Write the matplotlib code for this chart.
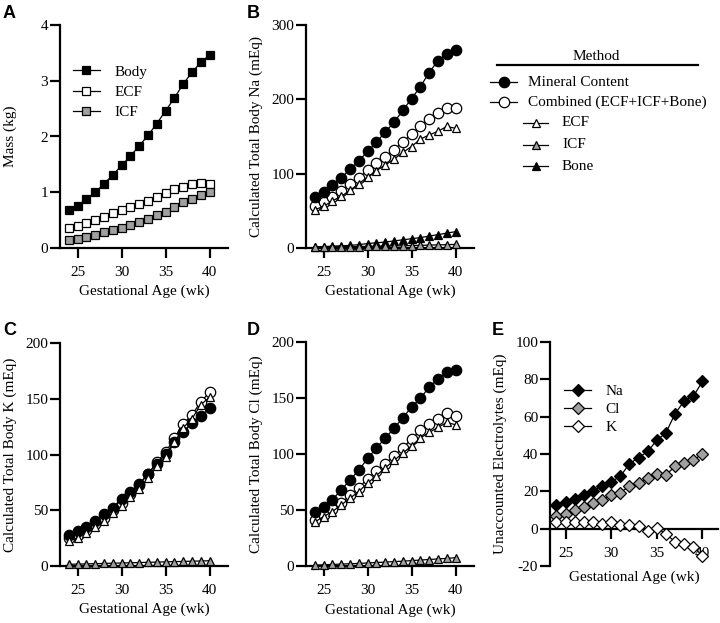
import matplotlib
matplotlib.use('Agg')
import matplotlib.pyplot as plt

plt.rcParams['font.family'] = ['Liberation Serif', 'DejaVu Serif']
plt.rcParams['axes.unicode_minus'] = False
plt.rcParams['font.size'] = 11

weeks = [24, 25, 26, 27, 28, 29, 30, 31, 32, 33, 34, 35, 36, 37, 38, 39, 40]

# Panel A: mass (kg)
mass_body = [0.69, 0.76, 0.88, 1.00, 1.15, 1.31, 1.48, 1.65, 1.83, 2.02, 2.23, 2.46, 2.69, 2.94, 3.15, 3.33, 3.46]
mass_ecf = [0.36, 0.40, 0.45, 0.50, 0.555, 0.62, 0.68, 0.74, 0.79, 0.85, 0.91, 0.98, 1.05, 1.09, 1.14, 1.17, 1.15]
mass_icf = [0.15, 0.17, 0.20, 0.23, 0.28, 0.33, 0.35, 0.41, 0.47, 0.52, 0.585, 0.65, 0.73, 0.82, 0.88, 0.95, 1.00]

# Panel B: total body Na (mEq)
na_mineral = [69, 76, 85, 94, 106, 117, 130, 142, 156, 169, 185, 201, 217, 236, 252, 261, 267]
na_combined = [57, 62, 69, 77, 86, 94.5, 105, 114, 123, 132, 143, 153, 164, 174, 182, 188.5, 188.5]
na_ecf = [51.5, 56, 63.5, 69.5, 77.5, 86.5, 95.5, 104, 111.5, 119.5, 128.5, 136.5, 146.5, 152, 157, 163.5, 161]
na_icf = [1.5, 1.6, 1.7, 1.8, 1.9, 2.0, 2.2, 2.4, 2.6, 2.8, 3.0, 3.3, 3.6, 3.9, 4.2, 4.5, 4.8]
na_bone = [1.5, 2, 2.5, 3, 3.5, 4.5, 6, 7, 8, 9.5, 11, 12.5, 14, 16, 18, 20, 22]

# Panel C: total body K (mEq)
k_mineral = [28, 31, 35.3, 40.4, 46.7, 52.4, 59.9, 66.5, 73.7, 82.3, 91.9, 100.6, 110.8, 120.4, 128.1, 134.7, 141.3]
k_combined = [25, 27.5, 32.3, 37.7, 43.1, 50.3, 56.9, 64.4, 72.8, 82.5, 93.1, 102, 114.7, 127.5, 135.3, 147.3, 155.7]
k_ecf = [22.5, 25.5, 30, 35, 40.5, 47.5, 54, 61.5, 69.5, 78.5, 90, 97.5, 111, 124, 132, 144.5, 151.5]
k_icf = [1.5, 1.7, 1.9, 2.1, 2.3, 2.5, 2.7, 2.9, 3.1, 3.3, 3.5, 3.7, 3.9, 4.1, 4.3, 4.5, 4.7]

# Panel D: total body Cl (mEq)
cl_mineral = [48.3, 53, 59.3, 67.7, 76.9, 85.5, 96, 105.2, 114.2, 122.8, 132.3, 141.9, 149.6, 159.8, 166.9, 172.9, 175.3]
cl_combined = [41.1, 45.3, 50.7, 56, 63.2, 70, 77.8, 84.6, 91.5, 98, 105.5, 113.3, 121, 126.4, 131.4, 136.2, 133.5]
cl_ecf = [39.3, 44.1, 48.6, 54.5, 60.5, 66.5, 73.9, 80.8, 87.6, 94.2, 100.7, 107.3, 114.2, 119.2, 123.7, 128.2, 126.1]
cl_icf = [0.8, 1.1, 1.4, 1.7, 2.0, 2.3, 2.7, 3.1, 3.5, 3.9, 4.3, 4.8, 5.3, 5.8, 6.3, 6.8, 7.4]

# Panel E: unaccounted electrolytes (mEq)
un_na = [12.9, 14.3, 15.7, 18.2, 20.4, 22.9, 25.2, 28, 34.8, 38, 41.4, 47.3, 51.4, 61.6, 68.4, 70.9, 78.9]
un_cl = [6.6, 8, 9.8, 11.6, 13.8, 15.2, 18.2, 19.3, 22.9, 24.6, 27.1, 29.1, 28.8, 33.4, 35.2, 36.6, 40.2]
un_k = [3.4, 3.6, 3.6, 3.6, 3.6, 2.7, 3.8, 1.8, 1.8, 1.3, -1.4, 0.5, -2.9, -7, -8, -9.8, -14.6]

GRAY = '#a0a0a0'
LW = 0.9

fig = plt.figure(figsize=(7.2, 6.23), dpi=100)
W, H = 720.0, 623.0


def add_ax(left, top, right, bottom):
    return fig.add_axes([left / W, 1 - bottom / H, (right - left) / W, (bottom - top) / H])


def style(ax, ylabel, xlim=(23.0, 42.1)):
    for s in ('top', 'right'):
        ax.spines[s].set_visible(False)
    for s in ('left', 'bottom'):
        ax.spines[s].set_linewidth(1.6)
    ax.tick_params(axis='both', direction='out', length=7, width=1.6, labelsize=11)
    ax.tick_params(axis='y', pad=1.5)
    ax.tick_params(axis='x', pad=6)
    ax.set_xlim(*xlim)
    ax.set_xticks([25, 30, 35, 40])
    ax.set_ylabel(ylabel, fontsize=11)
    ax.yaxis.set_label_coords(-43 / 168.0, 0.5)


def line(ax, y, marker, fc, ms, z=3):
    ax.plot(weeks, y, color='black', lw=LW, marker=marker, ms=ms, mfc=fc, mec='black',
            mew=0.9, clip_on=False, zorder=z)


# ---- Panel A
axA = add_ax(60, 25, 228, 248)
line(axA, mass_body, 's', 'black', 6.2)
line(axA, mass_ecf, 's', 'white', 6.2)
line(axA, mass_icf, 's', GRAY, 6.2)
axA.set_ylim(0, 4)
axA.set_yticks([0, 1, 2, 3, 4])
style(axA, 'Mass (kg)')
axA.set_xlabel('Gestational Age (wk)', fontsize=11)
axA.xaxis.set_label_coords(0.5, -37 / 223.0)
axA.legend(['Body', 'ECF', 'ICF'], loc='upper left', bbox_to_anchor=(0.077, 0.82),
           frameon=False, handlelength=1.75, handletextpad=0.95, labelspacing=0.42,
           borderaxespad=0, borderpad=0, fontsize=11)

# ---- Panel B
axB = add_ax(306, 25, 474, 248)
line(axB, na_combined, 'o', 'white', 7.5, 3)
line(axB, na_mineral, 'o', 'black', 7.5, 4)
line(axB, na_ecf, '^', 'white', 5.5, 5)
line(axB, na_bone, '^', 'black', 5.5, 5)
line(axB, na_icf, '^', GRAY, 5.5, 6)
axB.set_ylim(0, 300)
axB.set_yticks([0, 100, 200, 300])
style(axB, 'Calculated Total Body Na (mEq)')
axB.set_xlabel('Gestational Age (wk)', fontsize=11)
axB.xaxis.set_label_coords(0.5, -37 / 223.0)

# ---- Panel C
axC = add_ax(60, 343, 228, 566)
line(axC, k_combined, 'o', 'white', 7.5, 3)
line(axC, k_mineral, 'o', 'black', 7.5, 4)
line(axC, k_ecf, '^', 'white', 5.5, 5)
line(axC, k_icf, '^', GRAY, 5.5, 6)
axC.set_ylim(0, 200)
axC.set_yticks([0, 50, 100, 150, 200])
style(axC, 'Calculated Total Body K (mEq)')
axC.set_xlabel('Gestational Age (wk)', fontsize=11)
axC.xaxis.set_label_coords(0.5, -37 / 223.0)

# ---- Panel D
axD = add_ax(306, 342, 474, 566)
line(axD, cl_combined, 'o', 'white', 7.5, 3)
line(axD, cl_mineral, 'o', 'black', 7.5, 4)
line(axD, cl_ecf, '^', 'white', 5.5, 5)
line(axD, cl_icf, '^', GRAY, 5.5, 6)
axD.set_ylim(0, 200)
axD.set_yticks([0, 50, 100, 150, 200])
style(axD, 'Calculated Total Body Cl (mEq)')
axD.set_xlabel('Gestational Age (wk)', fontsize=11)
axD.xaxis.set_label_coords(0.5, -38 / 224.0)

# ---- Panel E
axE = add_ax(550, 342, 718, 566)
line(axE, un_na, 'D', 'black', 5.8)
line(axE, un_cl, 'D', GRAY, 5.8)
line(axE, un_k, 'D', 'white', 5.8)
axE.set_ylim(-20, 100)
axE.set_yticks([-20, 0, 20, 40, 60, 80, 100])
style(axE, 'Unaccounted Electrolytes (mEq)', xlim=(23.3, 41.7))
axE.spines['bottom'].set_position(('data', 0))
axE.set_xlabel('Gestational Age (wk)', fontsize=11)
axE.xaxis.set_label_coords(0.5, -5 / 224.0)
axE.legend(['Na', 'Cl', 'K'], loc='upper left', bbox_to_anchor=(0.085, 0.81),
           frameon=False, handlelength=1.75, handletextpad=0.95, labelspacing=0.28,
           borderaxespad=0, borderpad=0, fontsize=11)

# ---- Method legend (figure-level key)
lg = fig.add_axes([0, 0, 1, 1], zorder=-1)
lg.set_xlim(0, W)
lg.set_ylim(H, 0)
lg.axis('off')
lg.text(596, 56, 'Method', ha='center', va='center', fontsize=11)
lg.plot([497, 698], [65, 65], color='black', lw=1.6)
entries = [
    ('Mineral Content', 'o', 'black', 7.5, 490, 517, 528, 82),
    ('Combined (ECF+ICF+Bone)', 'o', 'white', 7.5, 490, 517, 528, 102),
    ('ECF', '^', 'white', 5.5, 523, 548, 562, 123),
    ('ICF', '^', GRAY, 5.5, 523, 548, 562, 145),
    ('Bone', '^', 'black', 5.5, 523, 548, 562, 166),
]
for lab, mk, fc, ms, x0, x1, xt, yy in entries:
    lg.plot([x0, x1], [yy, yy], color='black', lw=LW)
    lg.plot([(x0 + x1) / 2], [yy], marker=mk, ms=ms, mfc=fc, mec='black', mew=0.9, ls='none')
    lg.text(xt, yy, lab, ha='left', va='center', fontsize=11)

# ---- Panel letters
for letter, x, y in [('A', 3, 18), ('B', 247, 18), ('C', 3, 335), ('D', 247, 335), ('E', 492, 335)]:
    fig.text(x / W, 1 - y / H, letter, fontsize=13, fontweight='bold',
             family=['Liberation Sans', 'DejaVu Sans'], ha='left', va='baseline')

fig.savefig('out.png', dpi=100)
